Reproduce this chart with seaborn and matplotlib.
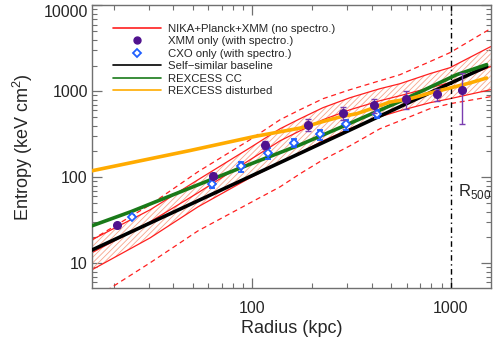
import numpy as np
import pandas as pd
import matplotlib
matplotlib.use("Agg")
import matplotlib.pyplot as plt
from matplotlib.lines import Line2D
import seaborn as sns

# NIKA+Planck+XMM entropy profile: best fit, 1 sigma (hatched) and 2 sigma (dashed) envelopes
band_r = [15.5, 30.5, 53.2, 97.4, 138, 174, 227, 311, 440, 555, 785, 992, 1590]
band_mid = [13.2, 30.3, 66.0, 160, 266, 348, 468, 612, 779, 891, 1104, 1264, 1941]
band_lo = [8.36, 19.7, 45.3, 98.7, 147.6, 193, 266, 367.5, 507, 596, 738, 822, 1047]
band_hi = [18.7, 41.8, 93.5, 221, 367.5, 481, 646, 845, 1075, 1229, 1608, 1889, 3319]
band_lo2 = [3.73, 10.1, 23.8, 50.4, 77.5, 110, 160, 233, 367.5, 455, 629, 719, 868]
band_hi2 = [18.7, 47.8, 116, 274, 468, 612, 822, 1047, 1332, 1565, 2219, 2825, 5381]

# XMM only (with spectroscopy)
xmm_r = [20.9, 63.1, 115.8, 190, 285.5, 412, 596, 849, 1136]
xmm_K = [27.7, 104, 241, 409, 560, 690, 818, 923, 1027]
xmm_err = [2, 8, 26, 66, 98, 130, 197, 149, 610]

# Chandra only (with spectroscopy)
cxo_r = [24.8, 62.4, 87.4, 119.6, 162.8, 219.3, 296.5, 423.6]
cxo_K = [34.9, 83.6, 133.7, 191.5, 252, 315.6, 415, 546]
cxo_err = [1.6, 9, 18, 26, 25, 42, 56, 58]

# reference profiles
ss_r = [15.5, 100, 1000, 1520]
ss_K = [14.2, 105, 1250, 1950]
cc_r = [15.5, 24.5, 53.2, 86.7, 174, 299, 555, 1072, 1517]
cc_K = [27.2, 39.9, 81.8, 128, 239, 409, 765, 1566, 2048]
dist_r = [15.5, 48.5, 102.8, 174, 228, 282, 336, 407, 494, 623, 786, 992, 1250, 1517]
dist_K = [119, 205, 299, 374, 447, 511, 550, 640, 752, 822, 958, 1096, 1254, 1432]

r500 = 1000

sns.set_style("ticks")
plt.rcParams['font.family'] = ['Liberation Sans', 'DejaVu Sans']
plt.rcParams['hatch.linewidth'] = 0.6
plt.rcParams['mathtext.fontset'] = 'custom'
plt.rcParams['mathtext.rm'] = 'Liberation Sans'

red = '#ff1f1f'
fig = plt.figure(figsize=(4.97, 3.43), dpi=100)
ax = fig.add_axes([0.1851, 0.1603, 0.8022, 0.8237])

# hatched 1 sigma band
ax.fill_between(band_r, band_lo, band_hi, facecolor='none', edgecolor='#f7a58c',
                hatch='//////', linewidth=0, zorder=1)
for ys in [band_lo, band_mid, band_hi]:
    sns.lineplot(x=band_r, y=ys, color=red, lw=0.9, sort=False, estimator=None, ax=ax, zorder=2)
for ys in [band_lo2, band_hi2]:
    ax.plot(band_r, ys, color=red, lw=0.9, dashes=(4, 3), zorder=2)

sns.lineplot(x=ss_r, y=ss_K, color='black', lw=2.6, sort=False, estimator=None, ax=ax, zorder=3)
sns.lineplot(x=cc_r, y=cc_K, color='#197a19', lw=2.6, sort=False, estimator=None, ax=ax, zorder=3)
sns.lineplot(x=dist_r, y=dist_K, color='#ffab00', lw=2.6, sort=False, estimator=None, ax=ax, zorder=3)

ax.errorbar(cxo_r, cxo_K, yerr=cxo_err, fmt='D', ms=4, mfc='white', mec='#1f5fff', mew=1.3,
            ecolor='#1f5fff', elinewidth=1, capsize=2.5, zorder=4)
ax.errorbar(xmm_r, xmm_K, yerr=xmm_err, fmt='o', ms=5.5, mfc='#50128e', mec='#50128e',
            ecolor='#7a3db0', elinewidth=1, capsize=2.5, zorder=5)

ax.axvline(r500, color='black', lw=1, linestyle=(0, (4, 2.5, 1, 2.5)), zorder=2)
ax.text(1088, 67.8, r'R$_{\mathregular{500}}$', fontsize=12, ha='left', va='center')

ax.set_xscale('log')
ax.set_yscale('log')
ax.set_xlim(15.56, 1591)
ax.set_ylim(5.15, 10000)
ax.set_xticks([100, 1000], labels=['100', '1000'])
ax.set_yticks([10, 100, 1000, 10000], labels=['10', '100', '1000', '10000'])
ax.set_xlabel('Radius (kpc)', fontsize=13, labelpad=3)
ax.set_ylabel('Entropy (keV cm$^\\mathregular{2}$)', fontsize=13, labelpad=6)

ax.tick_params(which='both', direction='in', top=True, right=True, color='#707070')
ax.tick_params(which='major', length=7, width=0.9)
ax.tick_params(which='minor', length=3.5, width=0.8)
ax.tick_params(axis='x', which='major', labelsize=11.5, pad=9)
ax.tick_params(axis='y', which='major', labelsize=11.5, pad=3)
for s in ax.spines.values():
    s.set_color('#707070')
    s.set_linewidth(1.0)
for lbl in ax.get_yticklabels():
    if lbl.get_text() == '10000':
        lbl.set_va('top')

handles = [
    Line2D([], [], color=red, lw=1.2),
    Line2D([], [], ls='none', marker='o', ms=5, mfc='#50128e', mec='#50128e'),
    Line2D([], [], ls='none', marker='D', ms=4, mfc='white', mec='#1f5fff', mew=1.3),
    Line2D([], [], color='black', lw=1.2),
    Line2D([], [], color='#197a19', lw=1.2),
    Line2D([], [], color='#ffab00', lw=1.2),
]
labels = ['NIKA+Planck+XMM (no spectro.)', 'XMM only (with spectro.)',
          'CXO only (with spectro.)', 'Self\u2212similar baseline',
          'REXCESS CC', 'REXCESS disturbed']
ax.legend(handles, labels, loc='upper left', bbox_to_anchor=(0.053, 0.935), frameon=False,
          fontsize=8.2, handlelength=4.2, handletextpad=0.6, labelspacing=0.22,
          borderpad=0, borderaxespad=0)

fig.savefig('out.png', dpi=100)
